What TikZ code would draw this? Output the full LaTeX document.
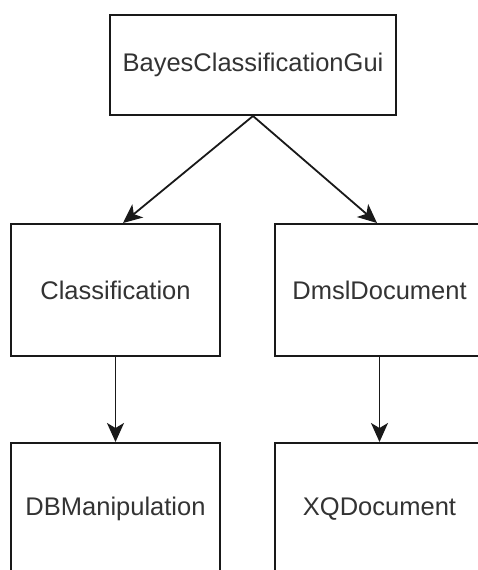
\documentclass[tikz,border=0pt]{standalone}
\usepackage{fontspec}
\setmainfont{Liberation Sans}
\usetikzlibrary{arrows.meta,calc}
\begin{document}
\begin{tikzpicture}[x=1pt,y=1pt,
  box/.style={draw=black!90,line width=2pt,fill=white,rectangle,inner sep=0pt,
    font=\fontsize{25.5}{30}\selectfont,text=black!80},
  link/.style={draw=black!90,line width=1.8pt,-{Stealth[length=19pt,width=17pt,inset=5pt]}}]
\useasboundingbox (0,0) rectangle (478,-570);
\clip (0,0) rectangle (478,-570);
\fill[white] (0,0) rectangle (478,-570);
\node[box,minimum width=286pt,minimum height=100pt] (top) at (253,-65) {BayesClassificationGui};
\node[box,minimum width=209pt,minimum height=132pt] (cls) at (115.5,-290) {Classification};
\node[box,minimum width=209pt,minimum height=132pt] (dmsl) at (379.5,-290) {DmslDocument};
\node[box,minimum width=209pt,minimum height=132pt] (db) at (115.5,-509) {DBManipulation};
\node[box,minimum width=209pt,minimum height=132pt] (xq) at (379.5,-509) {XQDocument};
\draw[link] (top.south) -- ($(cls.north)+(7.5,0)$);
\draw[link] (top.south) -- ($(dmsl.north)+(-2.5,0)$);
\draw[link] (cls.south) -- (db.north);
\draw[link] (dmsl.south) -- (xq.north);
\end{tikzpicture}
\end{document}
